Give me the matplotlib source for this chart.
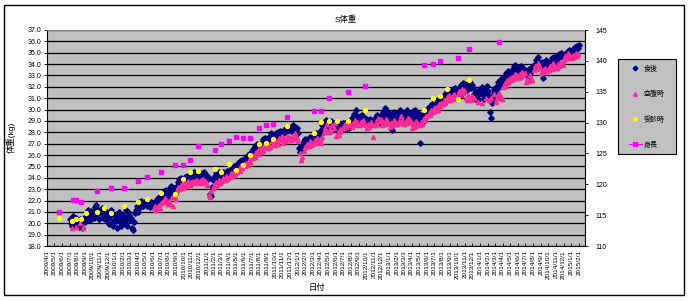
import numpy as np
import pandas as pd
import matplotlib
matplotlib.use('Agg')
import matplotlib.pyplot as plt
import matplotlib.dates as mdates
from matplotlib.lines import Line2D
from matplotlib.patches import Rectangle

plt.rcParams['font.family'] = ['Liberation Sans', 'Noto Sans CJK JP', 'DejaVu Sans']

# 食後 (after meal) weight, kg: one row per month starting 2009/7
shokugo_start = '2009-07-01'
shokugo_values = [
    [20.4, 20.0, 19.8, 20.6, 20.3, 19.9, 20.5, 20.2],  # 2009/7
    [20.2, 19.7, 20.4, 20.0, 19.6, 20.3, 20.5, 20.1],
    [20.6, 21.0, 20.4, 21.2, 20.8, 20.3, 21.1, 20.7],
    [21.0, 20.5, 21.4, 21.6, 20.8, 21.2, 20.4, 21.0],
    [20.9, 21.3, 20.5, 20.8, 21.1, 20.3, 20.7, 21.0],
    [20.4, 19.9, 20.6, 21.2, 20.0, 19.8, 20.3, 20.7],
    [20.2, 19.6, 20.5, 21.0, 20.1, 19.8, 20.7, 20.4],  # 2010/1
    [20.6, 20.0, 21.2, 20.4, 19.8, 21.0, 20.7, 20.3],
    [20.5, 19.6, 19.4, 20.1, 20.9, 21.2, 21.5, 21.0],
    [21.6, 21.9, 21.4, 22.0, 21.7, 21.5, 21.9, 21.8],
    [21.7, 21.5, 22.0, 21.8, 21.4, 21.9, 21.6, 21.8],
    [21.6, 21.9, 21.5, 22.1, 21.8, 22.0, 22.3, 22.0],
    [22.2, 22.5, 22.0, 22.8, 22.4, 22.9, 22.6, 22.3],
    [23.0, 22.7, 23.3, 23.2, 22.8, 23.1, 22.6, 23.0],
    [23.3, 23.6, 23.9, 23.4, 23.8, 24.0, 23.5, 23.7],
    [23.8, 24.1, 23.6, 24.2, 23.9, 24.0, 23.7, 24.2],
    [24.0, 24.3, 24.5, 24.1, 24.4, 24.2, 24.0, 24.4],
    [24.3, 24.1, 24.4, 24.0, 24.2, 24.5, 24.3, 24.1],
    [24.2, 23.9, 24.0, 22.6, 22.4, 23.2, 23.8, 24.1],  # 2011/1
    [24.0, 24.4, 23.8, 24.3, 24.1, 24.5, 23.9, 24.2],
    [24.1, 24.5, 23.9, 24.4, 24.2, 24.6, 24.0, 24.3],
    [24.4, 24.8, 24.3, 24.9, 24.6, 25.0, 24.5, 24.7],
    [25.0, 25.3, 25.1, 25.5, 25.2, 25.6, 25.3, 25.4],
    [25.5, 25.8, 25.6, 26.0, 25.7, 26.2, 25.9, 26.1],
    [26.2, 26.5, 26.3, 26.8, 26.6, 27.0, 26.7, 26.9],
    [26.8, 27.1, 26.9, 27.4, 27.2, 27.5, 27.0, 27.3],
    [27.3, 27.6, 27.4, 27.9, 27.5, 27.8, 27.6, 27.7],
    [27.6, 27.9, 27.5, 28.0, 27.7, 28.1, 27.8, 27.9],
    [27.9, 28.2, 28.0, 28.4, 28.1, 28.5, 28.3, 28.2],
    [28.1, 28.4, 28.2, 28.6, 28.3, 28.5, 28.0, 28.4],
    [27.9, 26.6, 26.3, 26.8, 27.0, 26.5, 27.2, 27.4],  # 2012/1
    [27.0, 27.3, 26.9, 27.5, 27.2, 27.6, 27.1, 27.4],
    [27.4, 27.7, 27.3, 27.9, 27.6, 27.8, 27.5, 28.0],
    [28.2, 28.6, 28.0, 28.9, 28.4, 29.1, 28.5, 28.7],
    [28.5, 28.9, 28.3, 29.0, 28.7, 28.4, 28.8, 28.6],
    [28.3, 28.6, 28.1, 28.7, 28.4, 28.2, 28.5, 28.8],
    [28.5, 28.8, 28.3, 28.9, 28.6, 28.4, 28.7, 28.5],
    [28.9, 29.3, 29.0, 29.6, 29.2, 30.0, 29.4, 29.1],
    [29.1, 29.4, 29.0, 29.5, 29.2, 28.9, 29.3, 29.2],
    [28.8, 29.1, 28.6, 29.2, 28.9, 28.7, 29.0, 28.8],
    [29.0, 29.3, 28.9, 29.5, 29.1, 28.8, 29.4, 29.2],
    [29.4, 29.8, 29.3, 30.1, 29.6, 29.9, 29.5, 29.7],
    [29.5, 29.2, 28.2, 29.0, 29.6, 29.8, 29.3, 29.1],  # 2013/1
    [29.3, 29.7, 29.1, 30.0, 29.4, 29.0, 29.6, 29.5],
    [29.4, 29.8, 29.2, 30.0, 29.5, 29.1, 29.7, 29.3],
    [29.5, 29.9, 29.3, 30.0, 29.6, 29.2, 29.7, 29.4],
    [27.1, 29.0, 29.4, 28.8, 29.6, 29.2, 29.8, 29.5],
    [29.7, 30.1, 29.6, 30.3, 30.0, 30.5, 30.2, 30.4],
    [30.3, 30.6, 30.2, 30.8, 30.5, 31.0, 30.7, 30.9],
    [30.8, 31.1, 30.9, 31.4, 31.2, 31.6, 31.0, 31.3],
    [31.2, 31.5, 31.3, 31.8, 31.4, 31.9, 31.6, 31.7],
    [31.5, 31.9, 31.2, 32.2, 31.8, 32.3, 31.6, 32.0],
    [31.8, 32.1, 31.7, 32.3, 32.0, 32.4, 31.9, 32.2],
    [31.9, 31.4, 30.9, 31.6, 31.2, 30.8, 31.5, 31.8],
    [31.7, 32.0, 31.3, 30.9, 31.5, 31.8, 31.2, 32.1],  # 2014/1
    [31.6, 31.2, 29.8, 29.3, 30.6, 31.0, 31.5, 31.8],
    [31.6, 32.0, 31.8, 32.4, 32.1, 32.6, 32.3, 32.8],
    [32.5, 32.9, 32.7, 33.2, 33.0, 33.4, 33.1, 33.3],
    [33.1, 33.5, 33.3, 33.8, 33.4, 33.9, 33.6, 33.5],
    [33.2, 33.6, 33.0, 33.8, 33.4, 33.7, 33.3, 33.5],
    [33.0, 33.4, 32.9, 33.6, 33.2, 33.7, 33.5, 33.8],
    [33.6, 34.0, 33.8, 34.4, 34.1, 34.6, 34.2, 34.0],
    [33.8, 34.2, 32.8, 33.5, 34.0, 34.4, 33.9, 34.1],
    [33.8, 34.2, 34.0, 34.5, 34.3, 34.6, 34.1, 34.4],
    [34.3, 34.7, 34.5, 34.9, 34.6, 35.0, 34.8, 34.7],
    [34.6, 34.9, 34.7, 35.1, 34.8, 35.2, 35.0, 35.1],
    [35.0, 35.3, 35.1, 35.5, 35.3, 35.6, 35.4, 35.7],  # 2015/1
]

# 空腹時 (fasting) weight, kg: a few early readings, then one row per month from 2010/6
kuufuku_early_dates = ['2009-07-12', '2009-07-26', '2009-08-10', '2009-08-22']
kuufuku_early_values = [19.6, 19.7, 20.0, 19.6]
kuufuku_start = '2010-06-01'
kuufuku_values = [
    [21.3, 21.5, 21.2, 21.4, 21.6, 21.3],  # 2010/6
    [21.8, 22.0, 21.9, 22.2, 22.0, 21.7],
    [22.0, 21.7, 22.3, 21.5, 22.4, 22.1],
    [22.9, 23.2, 23.0, 23.4, 23.1, 23.5],
    [23.2, 23.5, 23.3, 23.7, 23.4, 23.6],
    [23.5, 23.7, 23.6, 23.8, 23.5, 23.7],
    [23.6, 23.8, 23.5, 23.9, 23.7, 23.6],
    [23.4, 22.5, 22.3, 22.8, 23.1, 23.3],  # 2011/1
    [23.3, 23.6, 23.4, 23.8, 23.5, 23.7],
    [23.7, 24.0, 23.8, 24.2, 23.9, 24.1],
    [24.1, 24.4, 24.2, 24.6, 24.3, 24.5],
    [24.5, 24.8, 24.6, 25.1, 24.9, 25.2],
    [25.0, 25.3, 25.1, 25.6, 25.4, 25.7],
    [25.7, 26.0, 25.8, 26.3, 26.1, 26.5],
    [26.3, 26.6, 26.4, 26.9, 26.7, 27.0],
    [26.6, 26.9, 26.7, 27.2, 27.0, 27.3],
    [26.9, 27.2, 27.0, 27.5, 27.3, 27.7],
    [27.1, 27.4, 27.2, 27.7, 27.5, 27.6],
    [27.3, 27.6, 27.4, 27.9, 27.7, 27.5],
    [27.2, 26.2, 25.6, 25.8, 26.4, 26.7],  # 2012/1
    [26.7, 27.0, 26.8, 27.2, 26.9, 27.1],
    [27.0, 27.3, 27.1, 27.5, 27.2, 27.4],
    [27.1, 27.6, 28.0, 28.4, 28.2, 28.7],
    [28.0, 28.3, 28.1, 28.6, 28.4, 28.8],
    [27.7, 28.0, 27.8, 28.3, 28.1, 28.5],
    [28.4, 28.7, 28.5, 29.0, 28.8, 28.6],
    [28.5, 28.8, 28.6, 29.1, 28.9, 28.7],
    [28.6, 28.9, 28.7, 29.1, 28.8, 28.6],
    [28.4, 28.7, 28.5, 28.9, 28.6, 27.6],
    [28.6, 28.9, 28.7, 29.3, 29.0, 29.2],
    [28.6, 28.9, 28.7, 29.2, 29.0, 28.8],
    [28.5, 28.8, 28.6, 29.1, 28.9, 28.7],  # 2013/1
    [28.7, 29.0, 28.8, 29.4, 29.1, 28.9],
    [28.7, 29.0, 28.8, 29.3, 29.1, 28.9],
    [28.4, 28.7, 28.5, 29.0, 28.8, 28.6],
    [28.6, 28.9, 28.7, 29.3, 29.1, 29.4],
    [29.4, 29.7, 29.5, 30.0, 29.8, 30.1],
    [29.9, 30.2, 30.0, 30.5, 30.3, 30.6],
    [30.5, 30.8, 30.6, 31.1, 30.9, 31.3],
    [30.8, 31.1, 30.9, 31.4, 31.2, 31.0],
    [31.3, 31.6, 31.4, 31.8, 31.5, 31.7],
    [31.0, 30.8, 31.3, 31.1, 30.8, 31.2],
    [31.0, 30.7],
    [30.6, 31.0],                          # 2014/1
    [30.8, 31.0, 31.4],
    [30.7, 31.0, 31.3, 31.5, 31.1, 30.9],
    [32.0, 32.3, 32.1, 32.6, 32.4, 32.8],
    [32.6, 32.9, 32.7, 33.1, 32.8, 33.0],
    [32.8, 33.1, 32.9, 33.3, 33.0, 33.2],
    [32.4, 32.7, 32.5, 33.0, 32.8, 32.6],
    [33.5, 33.8, 33.6, 34.1, 33.9, 33.7],
    [33.2, 33.5, 33.3, 33.7, 33.4, 33.6],
    [33.5, 33.8, 33.6, 34.1, 33.9, 33.7],
    [33.7, 34.0, 33.8, 34.2, 34.0, 33.9],
    [34.4, 34.7, 34.5, 35.0, 34.8, 34.6],
    [34.5, 34.8, 34.6, 35.0, 34.7, 34.9],  # 2015/1
]

# 受診時 (clinic visit) weight, kg
jushin_dates = ['2009-05-20', '2009-07-10', '2009-07-25', '2009-08-15', '2009-09-05',
                '2009-10-18', '2009-11-15', '2009-12-13', '2010-02-03', '2010-04-01',
                '2010-05-07', '2010-07-01', '2010-08-25', '2010-09-28', '2010-10-28',
                '2010-11-28', '2011-02-03', '2011-03-01', '2011-04-01', '2011-04-28',
                '2011-05-25', '2011-06-22', '2011-07-28', '2011-08-25', '2011-09-22',
                '2011-11-18', '2012-03-05', '2012-04-05', '2012-05-07', '2012-06-05',
                '2012-07-22', '2012-09-25', '2013-05-19', '2013-06-25', '2013-07-22',
                '2013-08-20', '2013-10-03', '2013-11-16']
jushin_values = [20.5, 20.2, 20.4, 20.4, 20.9, 21.0, 21.35, 20.9, 21.5, 21.9,
                 22.1, 22.7, 22.6, 23.9, 24.5, 24.6, 24.8, 24.5, 25.2, 24.7,
                 25.1, 26.0, 27.0, 27.05, 27.4, 28.55, 27.9, 28.9, 29.0, 29.0,
                 29.0, 30.0, 30.0, 31.0, 31.2, 31.8, 30.9, 32.6]

# 身長 (height), cm - right axis
shincho_dates = ['2009-05-20', '2009-07-15', '2009-07-25', '2009-08-15', '2009-10-18',
                 '2009-12-13', '2010-02-03', '2010-04-01', '2010-05-07', '2010-07-01',
                 '2010-08-25', '2010-09-28', '2010-10-28', '2010-11-28', '2011-02-03',
                 '2011-03-01', '2011-04-01', '2011-04-28', '2011-05-25', '2011-06-22',
                 '2011-07-28', '2011-08-25', '2011-09-22', '2011-11-18', '2012-03-05',
                 '2012-04-05', '2012-05-07', '2012-07-22', '2012-09-25', '2013-05-19',
                 '2013-06-25', '2013-07-22', '2013-10-03', '2013-11-16', '2014-03-18']
shincho_values = [115.5, 117.4, 117.4, 117.1, 118.9, 119.4, 119.4, 120.5, 121.2, 122.0,
                  123.1, 123.1, 124.0, 126.2, 125.5, 126.5, 127.0, 127.7, 127.5, 127.5,
                  129.1, 129.6, 129.8, 130.9, 131.9, 131.9, 134.0, 135.0, 135.9, 139.3,
                  139.5, 140.0, 140.5, 141.9, 143.1]

series_labels = ['食後', '空腹時', '受診時', '身長']


def month_points(start, rows):
    # spread each month's readings evenly across that month
    xs, ys = [], []
    for k, vals in enumerate(rows):
        first = pd.Timestamp(start) + pd.DateOffset(months=k)
        days = first.days_in_month
        for i, v in enumerate(vals):
            xs.append(first + pd.Timedelta(days=(i + 0.5) * days / len(vals)))
            ys.append(v)
    return mdates.date2num(xs), np.array(ys)


def to_num(dates):
    return mdates.date2num(pd.to_datetime(dates))


fig = plt.figure(figsize=(6.92, 3.02), dpi=100)
ax = fig.add_axes([47 / 692, 1 - 246 / 302, 538 / 692, 216 / 302])
ax2 = ax.twinx()

gray = '#C0C0C0'
ax.set_facecolor(gray)

sx, sy = month_points(shokugo_start, shokugo_values)
ax.plot(sx, sy, ls='none', marker='D', ms=2.8, color='#000080', mec='#000080')

kx, ky = month_points(kuufuku_start, kuufuku_values)
kx = np.concatenate([to_num(kuufuku_early_dates), kx])
ky = np.concatenate([kuufuku_early_values, ky])
ax.plot(kx, ky, ls='none', marker='^', ms=3.0, color='#FF2A95', mec='#FF2A95')

ax.plot(to_num(jushin_dates), jushin_values, ls='none', marker='o', ms=2.8,
        color='#FFFF00', mec='#FFFF00')

ax2.plot(to_num(shincho_dates), shincho_values, ls='none', marker='s', ms=2.8,
         color='#FF00FF', mec='#FF00FF')

# axes
ax.set_ylim(18, 37)
ax.set_yticks(np.arange(18, 37.01, 1.0))
ax.set_yticklabels([f'{v:.1f}' for v in np.arange(18, 37.01, 1.0)], fontsize=5)
ax.yaxis.grid(True, color='black', lw=0.9)
ax.set_axisbelow(True)

ax2.set_ylim(110, 145)
ax2.set_yticks(np.arange(110, 146, 5))
ax2.tick_params(axis='y', labelsize=5, length=2.5, width=0.6, pad=5)

ticks = pd.date_range('2009-04-01', '2015-02-01', freq='MS')
ax.set_xticks(mdates.date2num(ticks))
ax.set_xticklabels([f'{t.year}/{t.month}/{t.day}' for t in ticks], rotation=90, fontsize=4.6)
ax.set_xlim(mdates.date2num(pd.Timestamp('2009-04-01')), mdates.date2num(pd.Timestamp('2015-02-25')))
ax.tick_params(axis='x', direction='in', length=2, width=0.6, pad=3)
ax.tick_params(axis='y', length=2, width=0.6, pad=2)

for s in ['left', 'bottom']:
    ax.spines[s].set_color('black')
    ax.spines[s].set_linewidth(0.8)
ax.spines['top'].set_color('#808080')
ax.spines['right'].set_visible(False)
for s in ['top', 'left', 'bottom']:
    ax2.spines[s].set_visible(False)
ax2.spines['right'].set_linewidth(0.8)

# texts
fig.text(0.5, 1 - 20 / 302, 'S体重', ha='center', va='center', fontsize=6)
fig.text(317 / 692, 1 - 288 / 302, '日付', ha='center', va='center', fontsize=6)
fig.text(11 / 692, 1 - 137 / 302, '体重(kg)', ha='center', va='center', rotation=90, fontsize=6)

# legend box
fig.patches.append(Rectangle((618 / 692, 1 - 154 / 302), 58 / 692, 95 / 302,
                             transform=fig.transFigure, facecolor=gray,
                             edgecolor='black', lw=0.8))
handles = [
    Line2D([], [], ls='none', marker='D', ms=2.4, color='#000080'),
    Line2D([], [], ls='none', marker='^', ms=2.6, color='#FF2A95'),
    Line2D([], [], ls='none', marker='o', ms=2.6, color='#FFFF00'),
    Line2D([], [], ls='-', lw=0.8, marker='s', ms=2.6, color='#FF00FF'),
]
fig.legend(handles, series_labels, loc='center', bbox_to_anchor=(647 / 692, 1 - 107 / 302),
           frameon=False, fontsize=5, labelspacing=2.6, handlelength=1.8, handletextpad=0.3)

# outer chart border
fig.patches.append(Rectangle((4 / 692, 1 - 295 / 302), 680 / 692, 290 / 302,
                             transform=fig.transFigure, fill=False,
                             edgecolor='black', lw=1.0))

plt.savefig('out.png', dpi=100)
